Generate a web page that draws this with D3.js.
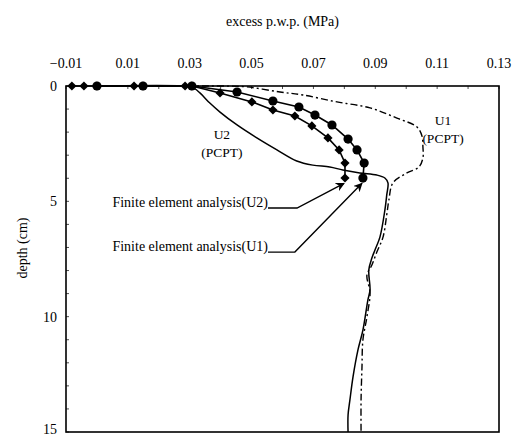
<!DOCTYPE html>
<html>
<head>
<meta charset="utf-8">
<script src="https://cdn.jsdelivr.net/npm/d3@7"></script>
<style>
  body { margin: 0; background: #fff; }
  text { font-family: "Liberation Serif", "Times New Roman", serif; fill: #000; }
</style>
</head>
<body>
<div id="chart"></div>
<script>
// tick labels
var xTicks = [-0.01, 0.01, 0.03, 0.05, 0.07, 0.09, 0.11, 0.13]
var yTicks = [0, 5, 10, 15]

// finite element analysis, U1 (circles)
var feU1Depth = [0, 0, 0, 0.26, 0.65, 0.91, 1.26, 1.69, 2.30, 2.77, 3.34, 3.99]
var feU1Pwp   = [0.0000, 0.0149, 0.0307, 0.0453, 0.0569, 0.0653, 0.0705, 0.0760, 0.0812, 0.0841, 0.0864, 0.0860]

// finite element analysis, U2 (diamonds)
var feU2Depth = [0, 0, 0, 0, 0, 0, 0, 0.30, 0.69, 1.04, 1.30, 1.73, 2.25, 2.77, 3.34, 3.99]
var feU2Pwp   = [-0.0081, -0.0042, 0.0000, 0.0120, 0.0149, 0.0285, 0.0307, 0.0398, 0.0501, 0.0569, 0.0640, 0.0695, 0.0747, 0.0783, 0.0802, 0.0802]

// U2 (PCPT) measured, solid
var pcptU2Depth = [0, 0, 0.04, 0.30, 0.74, 1.13, 1.69, 2.25, 2.77, 3.25, 3.43, 3.51, 3.64, 3.77, 3.86, 3.99, 4.20, 4.73, 5.38, 6.55, 7.11, 7.46, 7.98, 8.84, 9.28, 10.58, 11.44, 12.61, 13.61, 14.26, 15]
var pcptU2Pwp   = [0.0000, 0.0285, 0.0307, 0.0333, 0.0365, 0.0398, 0.0453, 0.0517, 0.0582, 0.0646, 0.0698, 0.0753, 0.0795, 0.0850, 0.0905, 0.0931, 0.0941, 0.0937, 0.0931, 0.0915, 0.0899, 0.0889, 0.0879, 0.0883, 0.0876, 0.0860, 0.0844, 0.0828, 0.0818, 0.0812, 0.0812]

// U1 (PCPT) measured, dash-dot
var pcptU1Depth = [0, 0, 0, 0.04, 0.26, 0.39, 0.69, 0.95, 1.39, 1.78, 2.17, 2.64, 3.12, 3.51, 3.77, 4.20, 4.94, 5.59, 6.55, 7.20, 7.76, 8.19, 8.97, 10.01, 11.01, 12.18, 13.61, 15]
var pcptU1Pwp   = [0.0000, 0.0307, 0.0398, 0.0485, 0.0592, 0.0666, 0.0776, 0.0883, 0.0970, 0.1035, 0.1051, 0.1054, 0.1054, 0.1041, 0.1002, 0.0957, 0.0944, 0.0937, 0.0925, 0.0905, 0.0889, 0.0873, 0.0883, 0.0873, 0.0860, 0.0857, 0.0854, 0.0854]

// labels and leader lines (pwp, depth)
var feLabels = ["Finite element analysis(U2)", "Finite element analysis(U1)"]
var feLabelPos = [[0.0553, 5.24], [0.0553, 7.15]]
var leaderU2 = [[0.0553, 5.29], [0.0647, 5.29], [0.0799, 4.22]]
var leaderU1 = [[0.0553, 7.20], [0.0640, 7.20], [0.0857, 4.22]]

var width = 515,
    height = 437
var margin = {top: 86, right: 16, bottom: 5, left: 66}

var svg = d3.select("#chart")
  .append("svg")
    .attr("width", width)
    .attr("height", height)

var x = d3.scaleLinear().domain([-0.01, 0.13]).range([margin.left, width - margin.right])
var y = d3.scaleLinear().domain([0, 15]).range([margin.top, height - margin.bottom])

function zip(a, b) { return a.map(function(v, i) { return [v, b[i]] }) }

// minor ticks inside the frame
var xMinor = d3.range(-0.01, 0.1301, 0.01)
svg.append("g").selectAll("line")
  .data(xMinor)
  .enter().append("line")
    .attr("x1", function(d) { return x(d) }).attr("x2", function(d) { return x(d) })
    .attr("y1", y(0)).attr("y2", y(0) + 3)
    .attr("stroke", "#222").attr("stroke-width", 0.8)
svg.append("g").selectAll("line")
  .data(d3.range(0, 16, 1))
  .enter().append("line")
    .attr("x1", x(-0.01)).attr("x2", x(-0.01) + 3)
    .attr("y1", function(d) { return y(d) }).attr("y2", function(d) { return y(d) })
    .attr("stroke", "#222").attr("stroke-width", 0.8)

// frame
svg.append("rect")
  .attr("x", x(-0.01)).attr("y", y(0))
  .attr("width", x(0.13) - x(-0.01)).attr("height", y(15) - y(0))
  .attr("fill", "none").attr("stroke", "#000").attr("stroke-width", 1.6)

// tick labels
svg.append("g").selectAll("text")
  .data(xTicks)
  .enter().append("text")
    .attr("x", function(d) { return x(d) })
    .attr("y", 68)
    .attr("text-anchor", "middle")
    .style("font-size", "14px")
    .text(function(d) { return d3.format(".2f")(d) })
svg.append("g").selectAll("text")
  .data(yTicks)
  .enter().append("text")
    .attr("x", 57)
    .attr("y", function(d) { return Math.min(y(d) + 5, 434) })
    .attr("text-anchor", "end")
    .style("font-size", "14px")
    .text(function(d) { return d })

// axis titles
svg.append("text")
  .attr("x", (x(-0.01) + x(0.13)) / 2)
  .attr("y", 26)
  .attr("text-anchor", "middle")
  .style("font-size", "14px")
  .text("excess p.w.p. (MPa)")
svg.append("text")
  .attr("transform", "translate(27," + 248 + ") rotate(-90)")
  .attr("text-anchor", "middle")
  .style("font-size", "14px")
  .text("depth (cm)")

var line = d3.line()
  .x(function(d) { return x(d[0]) })
  .y(function(d) { return y(d[1]) })
var smooth = d3.line()
  .x(function(d) { return x(d[0]) })
  .y(function(d) { return y(d[1]) })
  .curve(d3.curveCatmullRom.alpha(0.5))

// measured curves
svg.append("path")
  .attr("d", smooth(zip(pcptU2Pwp, pcptU2Depth)))
  .attr("fill", "none").attr("stroke", "#000").attr("stroke-width", 1.5)
svg.append("path")
  .attr("d", smooth(zip(pcptU1Pwp, pcptU1Depth)))
  .attr("fill", "none").attr("stroke", "#000").attr("stroke-width", 1.4)
  .attr("stroke-dasharray", "7,3,2,3")

// FE curves
svg.append("path")
  .attr("d", line(zip(feU1Pwp, feU1Depth)))
  .attr("fill", "none").attr("stroke", "#000").attr("stroke-width", 1.6)
svg.append("path")
  .attr("d", line(zip(feU2Pwp, feU2Depth)))
  .attr("fill", "none").attr("stroke", "#000").attr("stroke-width", 1.6)

svg.append("g").selectAll("circle")
  .data(zip(feU1Pwp, feU1Depth))
  .enter().append("circle")
    .attr("cx", function(d) { return x(d[0]) })
    .attr("cy", function(d) { return y(d[1]) })
    .attr("r", 4.6)
    .attr("fill", "#000")
svg.append("g").selectAll("path")
  .data(zip(feU2Pwp, feU2Depth))
  .enter().append("path")
    .attr("d", d3.symbol().type(d3.symbolSquare).size(42))
    .attr("transform", function(d) { return "translate(" + x(d[0]) + "," + y(d[1]) + ") rotate(45)" })
    .attr("fill", "#000")

// curve labels
svg.append("text").attr("x", x(0.0404)).attr("y", y(2.30)).attr("text-anchor", "middle")
  .style("font-size", "13.5px").text("U2")
svg.append("text").attr("x", x(0.0404)).attr("y", y(3.08)).attr("text-anchor", "middle")
  .style("font-size", "13.5px").text("(PCPT)")
svg.append("text").attr("x", x(0.1119)).attr("y", y(1.69)).attr("text-anchor", "middle")
  .style("font-size", "13.5px").text("U1")
svg.append("text").attr("x", x(0.1119)).attr("y", y(2.47)).attr("text-anchor", "middle")
  .style("font-size", "13.5px").text("(PCPT)")

// FE labels with arrows
svg.append("defs").append("marker")
  .attr("id", "arrow")
  .attr("viewBox", "0 0 10 10")
  .attr("refX", 9).attr("refY", 5)
  .attr("markerWidth", 9).attr("markerHeight", 9)
  .attr("markerUnits", "userSpaceOnUse")
  .attr("orient", "auto")
  .append("path").attr("d", "M0,0L10,5L0,10L3,5Z").attr("fill", "#000")

svg.append("g").selectAll("text")
  .data(feLabels)
  .enter().append("text")
    .attr("x", function(d, i) { return x(feLabelPos[i][0]) })
    .attr("y", function(d, i) { return y(feLabelPos[i][1]) })
    .attr("text-anchor", "end")
    .style("font-size", "14px")
    .text(function(d) { return d })

;[leaderU2, leaderU1].forEach(function(pts) {
  svg.append("path")
    .attr("d", line(pts))
    .attr("fill", "none").attr("stroke", "#000").attr("stroke-width", 1.4)
    .attr("marker-end", "url(#arrow)")
})
</script>
</body>
</html>
